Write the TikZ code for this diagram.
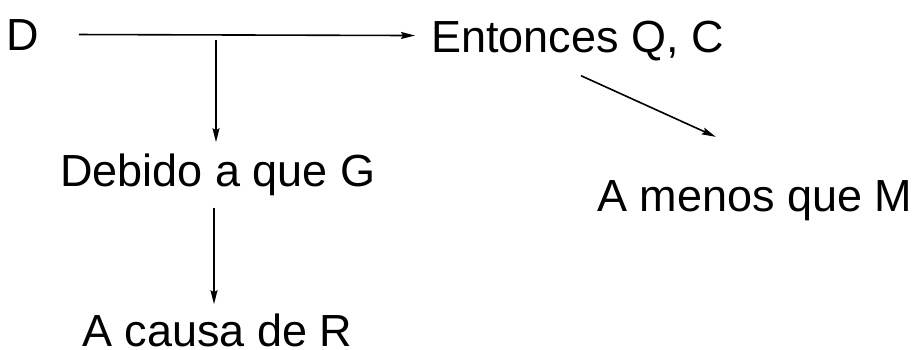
\documentclass[tikz,border=0pt]{standalone}
\usepackage{fontspec}
\setmainfont{Liberation Sans}
\usetikzlibrary{arrows.meta,calc}
\begin{document}
\begin{tikzpicture}[x=1pt,y=-1pt,
  lbl/.style={anchor=base west,inner sep=0pt,font=\fontsize{45}{50}\selectfont},
  arr/.style={line width=1.6pt,-{Stealth[length=14pt,width=7pt,inset=2pt]}}]
\useasboundingbox (0,0) rectangle (919,349);
\node[lbl] (D) at (6,50) {D};
\node[lbl] (E) at (431,52) {Entonces Q, C};
\node[lbl] (G) at (60,186) {Debido a que G};
\node[lbl] (M) at (597,211) {A menos que M};
\node[lbl] (R) at (82,346) {A causa de R};
\coordinate (j) at (216,40);
\draw[arr] ($(D.east)+(40,0)$) -- ($(E.west |- D.east)+(-16,1)$);
\draw[arr] (j) -- ($(G.north -| j)+(0,-11)$);
\draw[arr] ($(G.south -| j)+(-2,12)$) -- ($(R.north -| j)+(-2,-9)$);
\draw[arr] ($(E.south)+(3.5,15)$) -- ($(M.north)+(-39,-43)$);
\end{tikzpicture}
\end{document}
